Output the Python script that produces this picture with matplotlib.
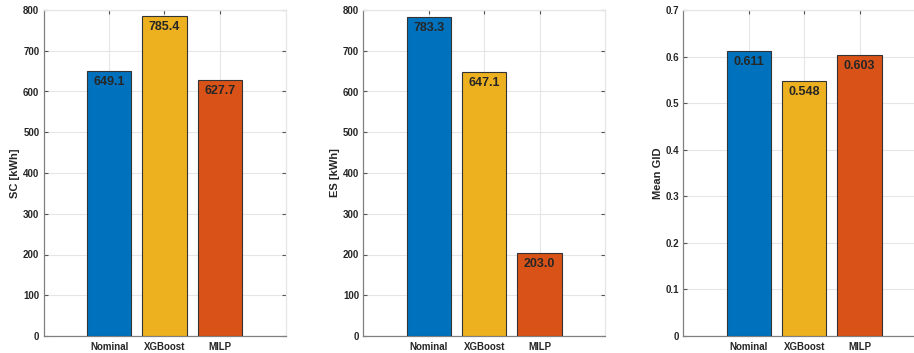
import matplotlib
matplotlib.use("Agg")
import matplotlib.pyplot as plt
from matplotlib.transforms import offset_copy

categories = ["Nominal", "XGBoost", "MILP"]
sc_values = [649.1, 785.4, 627.7]
es_values = [783.3, 647.1, 203.0]
gid_values = [0.611, 0.548, 0.603]

panels = [
    ("SC [kWh]", sc_values, 800, 100, "{:.1f}"),
    ("ES [kWh]", es_values, 800, 100, "{:.1f}"),
    ("Mean GID", gid_values, 0.7, 0.1, "{:.3f}"),
]

bar_colors = ["#0072BD", "#EDB120", "#D95319"]
W, H = 914, 353
fig = plt.figure(figsize=(W / 100, H / 100), dpi=100)
plt.rcParams["font.family"] = ["Liberation Sans", "DejaVu Sans"]

lefts = [43.5, 363.3, 683.3]
ax_w, top, bottom = 242, 10, 336

for left, (ylabel, vals, ymax, step, fmt) in zip(lefts, panels):
    ax = fig.add_axes([left / W, 1 - bottom / H, ax_w / W, (bottom - top) / H])
    xs = [1, 2, 3]
    ax.bar(xs, vals, width=0.8, color=bar_colors, edgecolor="#333333",
           linewidth=0.8, zorder=3)
    ax.set_xlim(-0.19, 4.19)
    ax.set_ylim(0, ymax)
    n = int(round(ymax / step))
    yt = [round(i * step, 3) for i in range(n + 1)]
    ax.set_yticks(yt)
    ax.set_yticklabels(["0" if v == 0 else (f"{v:g}") for v in yt])
    ax.set_xticks(xs)
    ax.set_xticklabels(categories)
    ax.grid(True, color="#e6e6e6", linewidth=0.8, zorder=0)
    ax.set_axisbelow(True)
    for s in ("left", "bottom"):
        ax.spines[s].set_color("#808080")
        ax.spines[s].set_linewidth(0.9)
    for s in ("top", "right"):
        ax.spines[s].set_color("#e6e6e6")
        ax.spines[s].set_linewidth(0.9)
    ax.tick_params(axis="both", direction="in", length=3, width=0.8,
                   color="#555555", labelsize=7, labelcolor="#262626",
                   top=True, right=True, pad=3)
    ax.tick_params(axis="x", pad=4)
    for lab in ax.get_xticklabels() + ax.get_yticklabels():
        lab.set_fontweight("bold")
    ax.set_ylabel(ylabel, fontsize=8, fontweight="bold", color="#262626",
                  labelpad=2)
    trans = offset_copy(ax.transData, fig=fig, x=0, y=-3.5, units="points")
    for x, v in zip(xs, vals):
        ax.text(x, v, fmt.format(v), ha="center", va="top", fontsize=9,
                fontweight="bold", color="#262626", transform=trans, zorder=4)

fig.savefig("out.png", dpi=100)
